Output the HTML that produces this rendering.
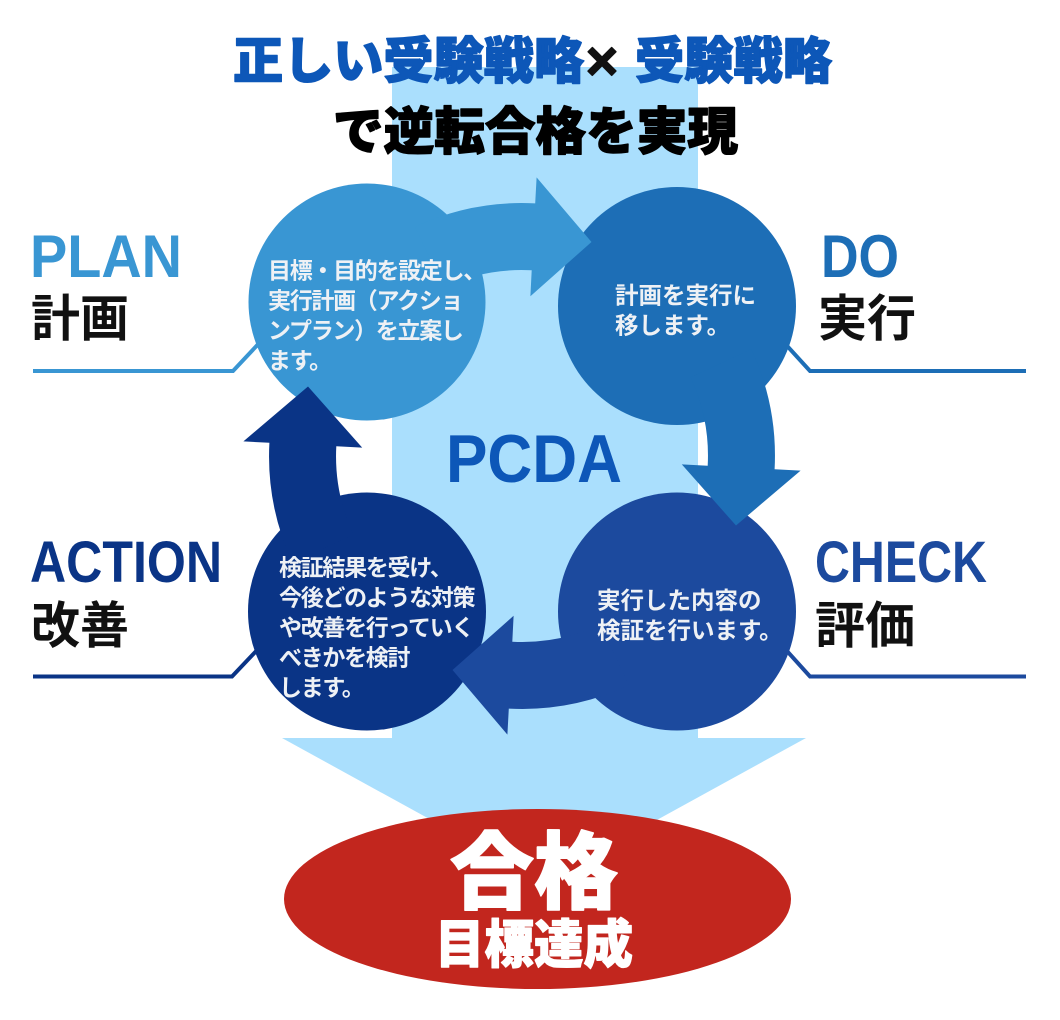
<!DOCTYPE html>
<html>
<head>
<meta charset="utf-8">
<style>
html,body{margin:0;padding:0;background:#fff;}
body{width:1060px;height:1020px;overflow:hidden;}
svg{display:block;}
.jp{font-family:"Liberation Sans","Noto Sans CJK JP",sans-serif;}
.lat{font-family:"Liberation Sans","DejaVu Sans",sans-serif;font-weight:bold;}
</style>
</head>
<body>
<svg width="1060" height="1020" viewBox="0 0 1060 1020" xmlns="http://www.w3.org/2000/svg">
  <!-- big light-blue block arrow -->
  <polygon points="392,67 698,67 698,738 806,738 544,882 282,738 392,738" fill="#AADFFD"/>
  <!-- red ellipse -->
  <ellipse cx="537.5" cy="899" rx="253.5" ry="90" fill="#C2261E"/>

  <!-- underlines -->
  <polyline points="33,371 233,371 278,323" fill="none" stroke="#3996D3" stroke-width="4"/>
  <polyline points="1026,371 810,371 768,325" fill="none" stroke="#1D6EB6" stroke-width="4"/>
  <polyline points="33,676.5 232,676.5 278,628" fill="none" stroke="#0A3486" stroke-width="4"/>
  <polyline points="1026,676.5 810,676.5 768,630" fill="none" stroke="#1C4A9E" stroke-width="4"/>

  <!-- circles -->
  <circle cx="367" cy="302" r="118.5" fill="#3996D3"/>
  <circle cx="677" cy="306" r="119" fill="#1D6EB6"/>
  <circle cx="677" cy="611.5" r="119" fill="#1C4A9E"/>
  <circle cx="367" cy="611.5" r="119" fill="#0A3486"/>

  <!-- ring arrows -->
  <path id="ar" d="M415.1,226.7 A253,253 0 0 1 535.2,203.4 L536.6,177.4 L591.5,242.0 L530.4,296.2 L531.7,270.3 A186,186 0 0 0 443.4,287.4 Z" fill="#3996D3"/>
  <path d="M415.1,226.7 A253,253 0 0 1 535.2,203.4 L536.6,177.4 L591.5,242.0 L530.4,296.2 L531.7,270.3 A186,186 0 0 0 443.4,287.4 Z" fill="#1D6EB6" transform="rotate(90 522 456)"/>
  <path d="M415.1,226.7 A253,253 0 0 1 535.2,203.4 L536.6,177.4 L591.5,242.0 L530.4,296.2 L531.7,270.3 A186,186 0 0 0 443.4,287.4 Z" fill="#1C4A9E" transform="rotate(180 522 456)"/>
  <path d="M415.1,226.7 A253,253 0 0 1 535.2,203.4 L536.6,177.4 L591.5,242.0 L530.4,296.2 L531.7,270.3 A186,186 0 0 0 443.4,287.4 Z" fill="#0A3486" transform="rotate(270 522 456)"/>

  <!-- circle texts -->
  <g class="jp" fill="#EEF1F5" font-weight="bold">
    <g font-size="23" letter-spacing="-1.3">
      <text x="268" y="278.5">目標・目的を設定し、</text>
      <text x="268" y="308.5">実行計画（アクショ</text>
      <text x="268" y="338.5">ンプラン）を立案し</text>
      <text x="268" y="368.5">ます。</text>
    </g>
    <g font-size="23.5">
      <text x="615" y="303.5">計画を実行に</text>
      <text x="615" y="333.5">移します。</text>
      <text x="597" y="608.5">実行した内容の</text>
      <text x="597" y="638.5">検証を行います。</text>
    </g>
    <g font-size="23" letter-spacing="-1.3">
      <text x="279" y="575.5">検証結果を受け、</text>
      <text x="279" y="605.5">今後どのような対策</text>
      <text x="279" y="635.5">や改善を行っていく</text>
      <text x="279" y="665.5">べきかを検討</text>
      <text x="279" y="695.5">します。</text>
    </g>
  </g>

  <!-- side labels -->
  <g class="lat">
    <text x="30" y="277" font-size="60" fill="#3996D3" textLength="152" lengthAdjust="spacingAndGlyphs">PLAN</text>
    <text x="821" y="277" font-size="60" fill="#1D6EB6" textLength="78" lengthAdjust="spacingAndGlyphs">DO</text>
    <text x="30" y="582" font-size="58" fill="#0A3486" textLength="192" lengthAdjust="spacingAndGlyphs">ACTION</text>
    <text x="815" y="582" font-size="58" fill="#1C4A9E" textLength="172" lengthAdjust="spacingAndGlyphs">CHECK</text>
    <text x="446" y="482" font-size="68" fill="#0D57B8" textLength="176" lengthAdjust="spacingAndGlyphs">PCDA</text>
  </g>
  <g class="jp" fill="#111" font-weight="bold" font-size="50">
    <text x="31" y="336" textLength="98" lengthAdjust="spacingAndGlyphs">計画</text>
    <text x="818" y="336" textLength="98" lengthAdjust="spacingAndGlyphs">実行</text>
    <text x="31" y="643" textLength="98" lengthAdjust="spacingAndGlyphs">改善</text>
    <text x="815" y="643" textLength="100" lengthAdjust="spacingAndGlyphs">評価</text>
  </g>

  <!-- title -->
  <g class="jp" font-weight="900" stroke-linejoin="round">
    <text x="233" y="78.5" font-size="50" fill="#0D57B8" stroke="#0D57B8" stroke-width="1.4" textLength="351" lengthAdjust="spacingAndGlyphs">正しい受験戦略</text>
    <text x="602" y="80" font-size="56" fill="#111" stroke="#111" stroke-width="1.4" text-anchor="middle">×</text>
    <text x="635" y="78.5" font-size="50" fill="#0D57B8" stroke="#0D57B8" stroke-width="1.4" textLength="197" lengthAdjust="spacingAndGlyphs">受験戦略</text>
    <text x="333" y="149.5" font-size="51" fill="#000" stroke="#000" stroke-width="1.4" textLength="405" lengthAdjust="spacingAndGlyphs">で逆転合格を実現</text>
  </g>

  <!-- result text -->
  <g class="jp" font-weight="900" fill="#fff" stroke="#fff" stroke-linejoin="round">
    <text x="534" y="902" font-size="84" stroke-width="1.6" text-anchor="middle">合格</text>
    <text x="435" y="963" font-size="52" stroke-width="1.2" textLength="198" lengthAdjust="spacingAndGlyphs">目標達成</text>
  </g>
</svg>
</body>
</html>
